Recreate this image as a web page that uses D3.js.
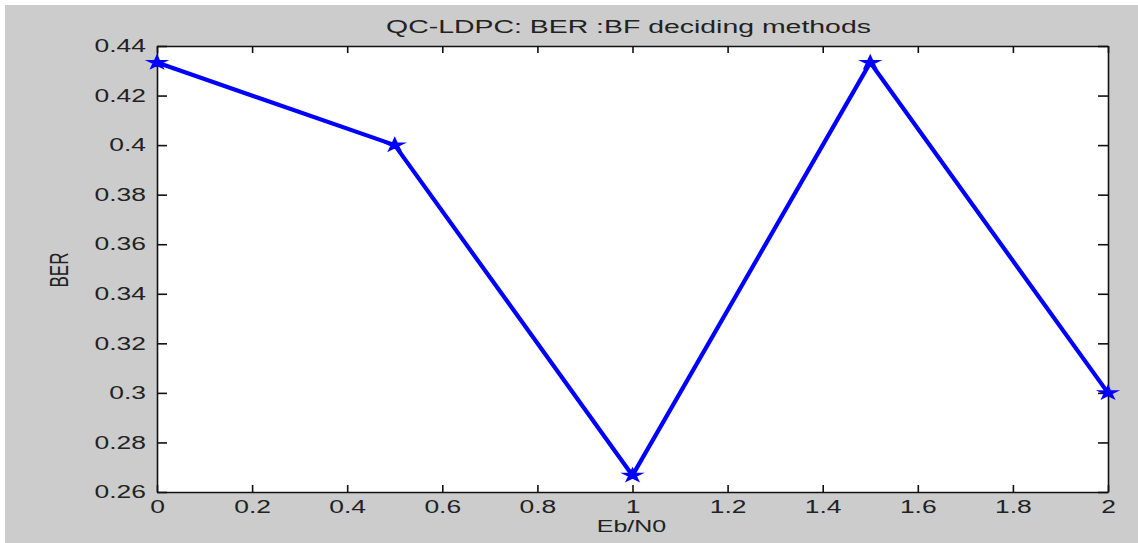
<!DOCTYPE html>
<html>
<head>
<meta charset="utf-8">
<script src="https://cdn.jsdelivr.net/npm/d3@7"></script>
<style>
  html, body { margin: 0; padding: 0; background: #ffffff; }
  svg { display: block; }
  text { font-family: "Liberation Sans", Arial, sans-serif; fill: #222222; }
</style>
</head>
<body>
<svg id="chart" width="1138" height="543"></svg>
<script>
// Eb/N0 sweep and measured bit error rate
const ebN0 = [0, 0.5, 1, 1.5, 2];
const ber = [0.4333, 0.4, 0.2667, 0.4333, 0.3];
const xTicks = [0, 0.2, 0.4, 0.6, 0.8, 1, 1.2, 1.4, 1.6, 1.8, 2];
const yTicks = [0.26, 0.28, 0.3, 0.32, 0.34, 0.36, 0.38, 0.4, 0.42, 0.44];
const titleText = "QC-LDPC: BER :BF deciding methods";
const xLabel = "Eb/N0";
const yLabel = "BER";

const W = 1138, H = 543;
const plot = { left: 157, right: 1108, top: 46, bottom: 492 };
const stretch = 1.47;   // glyphs are drawn wide
const fontSize = 18;

const svg = d3.select("#chart");

// figure background
svg.append("rect").attr("x", 5).attr("y", 5).attr("width", W - 5).attr("height", H - 5)
  .attr("fill", "#cccccc");

// axes area
svg.append("rect").attr("x", plot.left).attr("y", plot.top)
  .attr("width", plot.right - plot.left).attr("height", plot.bottom - plot.top)
  .attr("fill", "#ffffff");

const x = d3.scaleLinear().domain([0, 2]).range([plot.left, plot.right]);
const y = d3.scaleLinear().domain([0.26, 0.44]).range([plot.bottom, plot.top]);

function styleAxis(g) {
  g.selectAll("path.domain").attr("stroke", "#111").attr("stroke-width", 1.6);
  g.selectAll(".tick line").attr("stroke", "#111").attr("stroke-width", 1.6);
  g.selectAll("text").attr("font-size", fontSize).attr("fill", "#222")
    .attr("font-family", "'Liberation Sans', Arial, sans-serif");
}

const fmt = d => String(+d.toFixed(2));

// bottom axis with labels
const gx = svg.append("g").attr("transform", `translate(0,${plot.bottom})`)
  .call(d3.axisBottom(x).tickValues(xTicks).tickFormat(fmt)
    .tickSizeInner(-7).tickSizeOuter(0).tickPadding(8));
styleAxis(gx);
gx.selectAll("text").attr("transform", `scale(${stretch},1)`);

// left axis with labels
const gy = svg.append("g").attr("transform", `translate(${plot.left},0)`)
  .call(d3.axisLeft(y).tickValues(yTicks).tickFormat(fmt)
    .tickSizeInner(-10).tickSizeOuter(0).tickPadding(7.5));
styleAxis(gy);
gy.selectAll("text").attr("transform", `scale(${stretch},1)`);

// top and right axes: ticks only
const gt = svg.append("g").attr("transform", `translate(0,${plot.top})`)
  .call(d3.axisTop(x).tickValues(xTicks).tickFormat("").tickSizeInner(-7).tickSizeOuter(0));
styleAxis(gt);
const gr = svg.append("g").attr("transform", `translate(${plot.right},0)`)
  .call(d3.axisRight(y).tickValues(yTicks).tickFormat("").tickSizeInner(-10).tickSizeOuter(0));
styleAxis(gr);

// data line
const pts = ebN0.map((v, i) => [v, ber[i]]);
svg.append("path")
  .datum(pts)
  .attr("fill", "none")
  .attr("stroke", "#0000ff")
  .attr("stroke-width", 4.2)
  .attr("stroke-linejoin", "round")
  .attr("d", d3.line().x(d => x(d[0])).y(d => y(d[1])));

// star markers
svg.selectAll("path.marker")
  .data(pts)
  .enter().append("path")
  .attr("class", "marker")
  .attr("fill", "#0000ff")
  .attr("stroke", "#0000ff")
  .attr("stroke-width", 1.5)
  .attr("transform", d => `translate(${x(d[0])},${y(d[1])}) scale(${stretch},1)`)
  .attr("d", d3.symbol().type(d3.symbolStar).size(45));

// title
svg.append("text")
  .attr("transform", `translate(${(plot.left + plot.right) / 2 - 4},33) scale(1.58,1)`)
  .attr("text-anchor", "middle")
  .attr("font-size", fontSize)
  .text(titleText);

// x label
svg.append("text")
  .attr("transform", `translate(${(plot.left + plot.right) / 2 - 1},532) scale(${stretch},1)`)
  .attr("text-anchor", "middle")
  .attr("font-size", 17)
  .text(xLabel);

// y label
svg.append("text")
  .attr("transform", `translate(68,270) scale(${stretch},1) rotate(-90)`)
  .attr("text-anchor", "middle")
  .attr("font-size", 17)
  .text(yLabel);
</script>
</body>
</html>
